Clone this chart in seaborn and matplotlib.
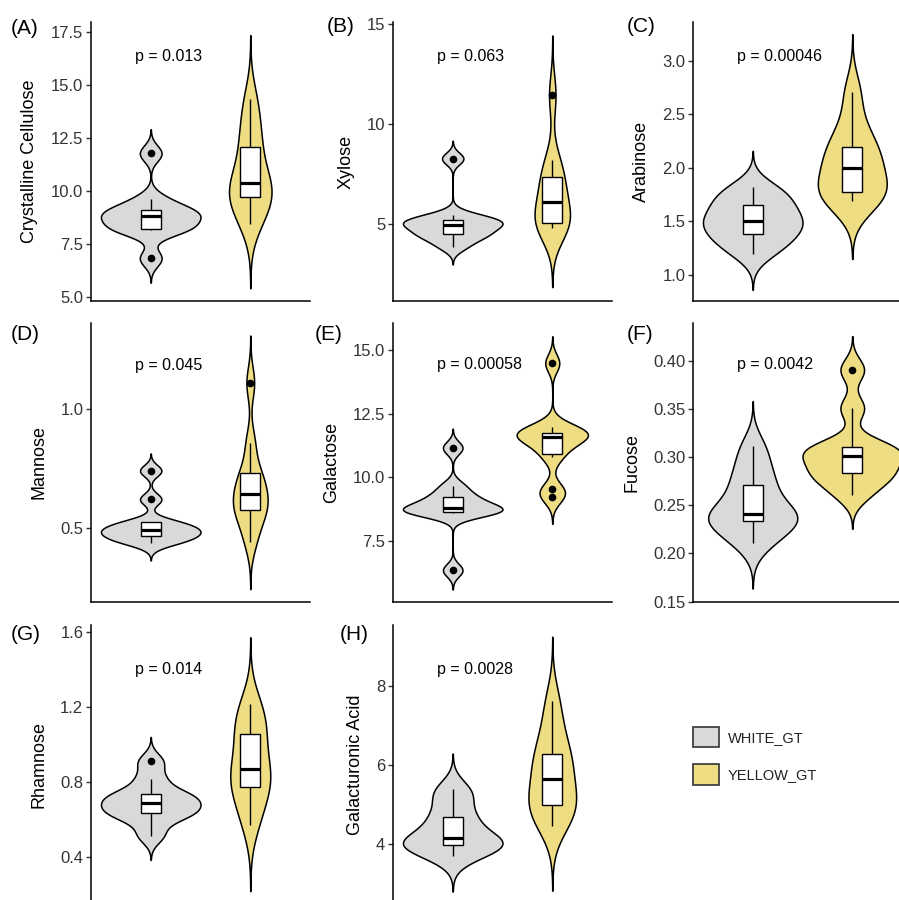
import numpy as np
import pandas as pd
import matplotlib
matplotlib.use("Agg")
import matplotlib.pyplot as plt
import seaborn as sns
from matplotlib.patches import Patch

groups = ["WHITE_GT", "YELLOW_GT"]
group_colors = ["#D9D9D9", "#EEDD82"]

sugars = ["Crystalline Cellulose", "Xylose", "Arabinose", "Mannose",
          "Galactose", "Fucose", "Rhamnose", "Galacturonic Acid"]
panel_tags = ["(A)", "(B)", "(C)", "(D)", "(E)", "(F)", "(G)", "(H)"]
p_labels = ["p = 0.013", "p = 0.063", "p = 0.00046", "p = 0.045",
            "p = 0.00058", "p = 0.0042", "p = 0.014", "p = 0.0028"]
p_label_y = [16.32, 13.4, 3.04, 1.187, 14.41, 0.3955, 1.399, 8.40]

cellulose_white = [6.82, 8.14, 8.18, 8.34, 8.75, 8.85, 9.00, 9.16, 9.61, 11.77]
cellulose_yellow = [8.43, 9.10, 9.60, 10.00, 10.20, 10.52, 11.50, 12.27, 13.20, 14.33]
xylose_white = [3.87, 4.30, 4.45, 4.65, 4.90, 5.00, 5.15, 5.22, 5.45, 8.27]
xylose_yellow = [4.82, 4.95, 5.00, 5.12, 5.90, 6.34, 7.10, 7.46, 8.20, 11.45]
arabinose_white = [1.20, 1.30, 1.36, 1.44, 1.48, 1.53, 1.60, 1.672, 1.75, 1.82]
arabinose_yellow = [1.69, 1.72, 1.76, 1.82, 1.95, 2.05, 2.15, 2.217, 2.40, 2.71]
mannose_white = [0.434, 0.45, 0.46, 0.48, 0.485, 0.495, 0.516, 0.524, 0.62, 0.741]
mannose_yellow = [0.44, 0.52, 0.57, 0.59, 0.62, 0.664, 0.70, 0.743, 0.859, 1.112]
galactose_white = [6.34, 8.60, 8.62, 8.66, 8.75, 8.85, 9.10, 9.267, 9.65, 11.15]
galactose_yellow = [9.22, 9.53, 10.80, 11.24, 11.50, 11.68, 11.72, 11.75, 11.96, 14.48]
fucose_white = [0.2106, 0.222, 0.232, 0.239, 0.240, 0.2426, 0.262, 0.2736, 0.29, 0.311]
fucose_yellow = [0.2607, 0.275, 0.282, 0.287, 0.298, 0.3042, 0.309, 0.3114, 0.3506, 0.3904]
rhamnose_white = [0.514, 0.60, 0.63, 0.649, 0.675, 0.701, 0.73, 0.74, 0.818, 0.91]
rhamnose_yellow = [0.572, 0.68, 0.76, 0.813, 0.85, 0.892, 1.02, 1.068, 1.15, 1.218]
galacturonic_white = [3.705, 3.90, 3.97, 4.02, 4.10, 4.20, 4.60, 4.72, 5.20, 5.387]
galacturonic_yellow = [4.46, 4.80, 4.97, 5.05, 5.50, 5.78, 6.20, 6.30, 6.90, 7.60]

white_sets = [cellulose_white, xylose_white, arabinose_white, mannose_white,
              galactose_white, fucose_white, rhamnose_white, galacturonic_white]
yellow_sets = [cellulose_yellow, xylose_yellow, arabinose_yellow, mannose_yellow,
               galactose_yellow, fucose_yellow, rhamnose_yellow, galacturonic_yellow]

y_ticks = [[5.0, 7.5, 10.0, 12.5, 15.0, 17.5], [5, 10, 15],
           [1.0, 1.5, 2.0, 2.5, 3.0], [0.5, 1.0], [7.5, 10.0, 12.5, 15.0],
           [0.15, 0.20, 0.25, 0.30, 0.35, 0.40], [0.4, 0.8, 1.2, 1.6], [4, 6, 8]]
tick_fmt = ["%.1f", "%d", "%.1f", "%.1f", "%.1f", "%.2f", "%.1f", "%d"]
y_limits = [(4.81, 17.97), (1.15, 15.1), (0.757, 3.364), (0.186, 1.365),
            (5.09, 16.06), (0.1497, 0.439), (0.148, 1.639), (2.49, 9.53)]

rows = []
for name, w, y in zip(sugars, white_sets, yellow_sets):
    rows += [(name, groups[0], v) for v in w]
    rows += [(name, groups[1], v) for v in y]
df = pd.DataFrame(rows, columns=["sugar", "group", "value"])


def nrd0(kde):
    # R's default bandwidth (bw.nrd0), as used by ggplot violins
    x = kde.dataset.ravel()
    sd = x.std(ddof=1)
    q75, q25 = np.percentile(x, [75, 25])
    lo = min(sd, (q75 - q25) / 1.34)
    return 0.9 * lo * len(x) ** -0.2 / sd


sns.set_style("white")
plt.rcParams["font.family"] = ["Liberation Sans", "DejaVu Sans"]

W, H = 899, 900
fig = plt.figure(figsize=(W / 100, H / 100), dpi=100)

col_left = [91, 393, 693]
row_top = [22, 323, 625]
pw, ph = 219, 279
tag_xy = [(25, 28), (341, 26), (641, 27), (25, 334), (329, 335),
          (640, 334), (26, 634), (354, 634)]

for i, name in enumerate(sugars):
    r, c = divmod(i, 3)
    ax = fig.add_axes([col_left[c] / W, 1 - (row_top[r] + ph) / H, pw / W, ph / H])
    sub = df[df["sugar"] == name]
    sns.violinplot(data=sub, x="group", y="value", hue="group", order=groups,
                   hue_order=groups, palette=group_colors, legend=False,
                   inner=None, cut=3, density_norm="area", common_norm=True,
                   width=1.0, bw_method=nrd0, gridsize=300, linewidth=1.1,
                   linecolor="black", saturation=1, ax=ax)
    sns.boxplot(data=sub, x="group", y="value", order=groups, width=0.2,
                color="white", linecolor="black", linewidth=1.0,
                showcaps=False, fliersize=4.5,
                flierprops={"marker": "o", "markerfacecolor": "black",
                            "markeredgecolor": "black"},
                medianprops={"linewidth": 2.3}, ax=ax)
    ax.set_xlim(-0.6, 1.6)
    ax.set_ylim(*y_limits[i])
    ax.set_yticks(y_ticks[i])
    ax.set_yticklabels([tick_fmt[i] % t for t in y_ticks[i]])
    ax.set_xlabel("")
    ax.set_ylabel(name, fontsize=13, color="black", labelpad=9)
    ax.tick_params(axis="x", bottom=False, labelbottom=False)
    ax.tick_params(axis="y", left=True, length=3.5, width=1.0,
                   labelsize=12, labelcolor="#333333", color="#333333", pad=2)
    for s in ["top", "right"]:
        ax.spines[s].set_visible(False)
    for s in ["left", "bottom"]:
        ax.spines[s].set_color("black")
        ax.spines[s].set_linewidth(1.1)
    ax.text(-0.155, p_label_y[i], p_labels[i], ha="left", va="center",
            fontsize=11.5, color="black")
    tx, ty = tag_xy[i]
    fig.text(tx / W, 1 - ty / H, panel_tags[i], ha="center", va="center",
             fontsize=15, color="black")

handles = [Patch(facecolor=col, edgecolor="#333333", linewidth=1.2, label=g)
           for g, col in zip(groups, group_colors)]
fig.legend(handles=handles, loc="upper left",
           bbox_to_anchor=(693 / W, 1 - 727 / H), frameon=False,
           fontsize=10.5, handlelength=1.78, handleheight=1.78,
           labelspacing=1.16, handletextpad=0.62, borderpad=0,
           borderaxespad=0, labelcolor="#222222")

fig.savefig("out.png", dpi=100)
